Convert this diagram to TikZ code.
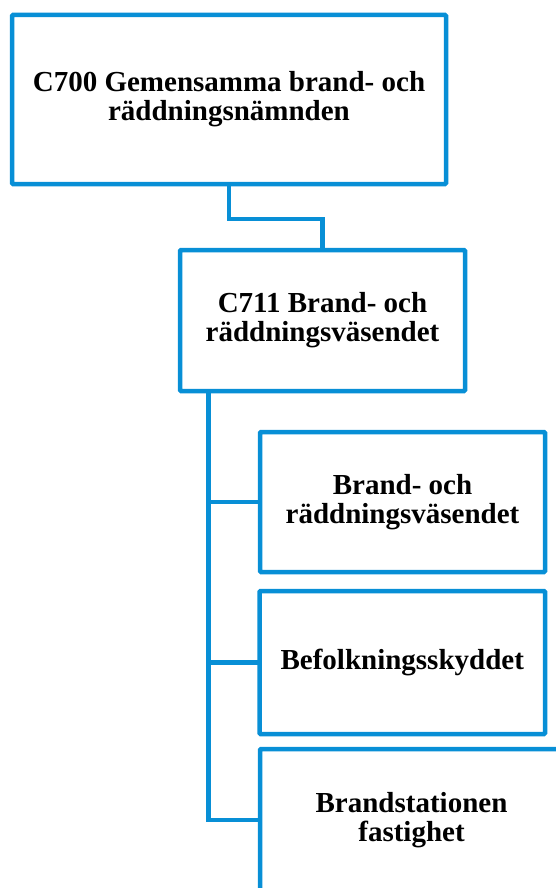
\documentclass[tikz,border=0pt]{standalone}
\usepackage{fontspec}
\setmainfont{Liberation Serif}
\definecolor{orgblue}{RGB}{8,143,214}
\begin{document}
\begin{tikzpicture}[x=1pt,y=-1pt,
  box/.style={draw=orgblue, line width=4.5pt, rounded corners=1pt, fill=white,
    rectangle, inner sep=0pt, outer sep=0pt, align=center,
    font=\fontsize{29}{29}\selectfont\bfseries, text=black},
  conn/.style={draw=orgblue, line width=4.5pt}]
\useasboundingbox (0,0) rectangle (556,888);
\clip (0,0) rectangle (556,888);
\node[box, minimum width=434pt, minimum height=169pt] (b1) at (229,99.5)
  {C700 Gemensamma brand- och\\räddningsnämnden};
\node[box, minimum width=285pt, minimum height=141pt] (b2) at (322.5,320.5)
  {C711 Brand- och\\räddningsväsendet};
\node[box, minimum width=285pt, minimum height=140pt] (b3) at (402.5,502)
  {Brand- och\\räddningsväsendet};
\node[box, minimum width=285.5pt, minimum height=143pt] (b4) at (402.25,662.5)
  {Befolkningsskyddet};
\node[box, minimum width=303pt, minimum height=142pt] (b5) at (411.5,820)
  {Brandstationen\\fastighet};
\coordinate (t) at (208.5,391);
\draw[conn] (b1.south) -- ++(0,35) -| (b2.north);
\draw[conn] (t) |- (b5.west);
\draw[conn] (t |- b3.west) -- (b3.west);
\draw[conn] (t |- b4.west) -- (b4.west);
\end{tikzpicture}
\end{document}
